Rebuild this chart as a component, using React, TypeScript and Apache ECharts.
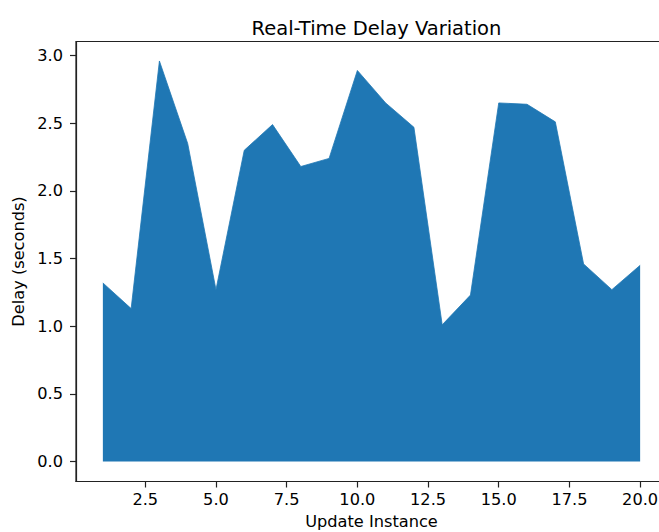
import React, { useEffect, useRef } from "react";
import * as echarts from "echarts";

const xValues = [1, 2, 3, 4, 5, 6, 7, 8, 9, 10, 11, 12, 13, 14, 15, 16, 17, 18, 19, 20];
const delays = [1.32, 1.13, 2.96, 2.35, 1.27, 2.30, 2.49, 2.18, 2.24, 2.89, 2.65, 2.47, 1.01, 1.23, 2.65, 2.64, 2.51, 1.46, 1.27, 1.45];
const xTicks = [2.5, 5, 7.5, 10, 12.5, 15, 17.5, 20];
const yTicks = [0, 0.5, 1, 1.5, 2, 2.5, 3];

const FONT = "DejaVu Sans";
const LABEL_SIZE = 16.2;
const TITLE_SIZE = 19.5;

export default function App() {
  const ref = useRef<HTMLDivElement>(null);
  useEffect(() => {
    if (!ref.current) return;
    const chart = echarts.init(ref.current, undefined, { renderer: "svg" });
    const data = xValues.map((x, i) => [x, delays[i]]);
    chart.setOption({
      animation: false,
      backgroundColor: "#ffffff",
      title: {
        text: "Real-Time Delay Variation",
        left: 371.5,
        top: 13,
        textAlign: "center",
        textStyle: { fontFamily: FONT, fontSize: TITLE_SIZE, fontWeight: "normal", color: "#000" },
      },
      grid: {
        left: 76,
        top: 41.5,
        width: 591,
        height: 440,
        outerBoundsMode: "none",
        containLabel: false,
        show: true,
        borderColor: "#222",
        borderWidth: 1.2,
        backgroundColor: "transparent",
      },
      xAxis: {
        type: "value",
        min: 0.05,
        max: 20.95,
        name: "Update Instance",
        nameLocation: "middle",
        nameGap: 32,
        nameTextStyle: { fontFamily: FONT, fontSize: LABEL_SIZE, color: "#000" },
        splitLine: { show: false },
        axisLine: { show: true, onZero: false, lineStyle: { color: "#222", width: 1.2 } },
        axisTick: { show: true, length: 6, lineStyle: { color: "#222", width: 1.2 }, customValues: xTicks },
        axisLabel: {
          fontFamily: FONT,
          fontSize: LABEL_SIZE,
          color: "#000",
          margin: 10,
          customValues: xTicks,
          formatter: (v: number) => v.toFixed(1),
        },
      },
      yAxis: {
        type: "value",
        min: -0.148,
        max: 3.104,
        name: "Delay (seconds)",
        nameLocation: "middle",
        nameGap: 45,
        nameRotate: 90,
        nameTextStyle: { fontFamily: FONT, fontSize: LABEL_SIZE, color: "#000" },
        splitLine: { show: false },
        axisLine: { show: true, onZero: false, lineStyle: { color: "#222", width: 1.2 } },
        axisTick: { show: true, length: 6, lineStyle: { color: "#222", width: 1.2 }, customValues: yTicks },
        axisLabel: {
          fontFamily: FONT,
          fontSize: LABEL_SIZE,
          color: "#000",
          margin: 13,
          customValues: yTicks,
          formatter: (v: number) => v.toFixed(1),
        },
      },
      series: [
        {
          type: "line",
          data,
          showSymbol: false,
          symbol: "none",
          lineStyle: { color: "#1f77b4", width: 0.8 },
          areaStyle: { color: "#1f77b4", opacity: 1, origin: 0 },
          itemStyle: { color: "#1f77b4" },
        },
      ],
    });
    return () => chart.dispose();
  }, []);
  return (
    <div
      ref={ref}
      style={{ position: "fixed", left: 0, top: 0, width: 659, height: 532, background: "#fff" }}
    />
  );
}
